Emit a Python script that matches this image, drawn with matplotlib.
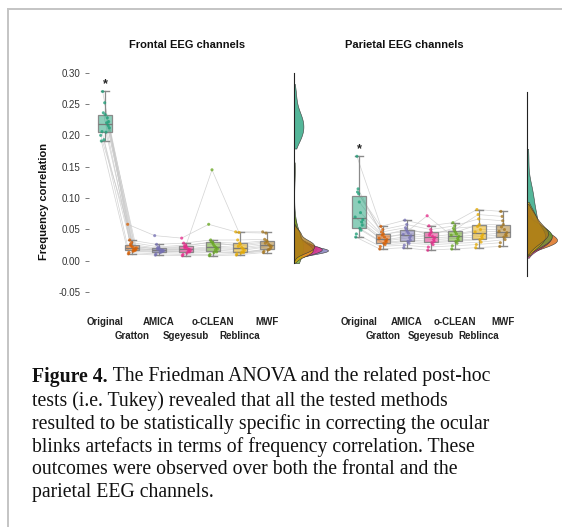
import numpy as np
import matplotlib
matplotlib.use("Agg")
import matplotlib.pyplot as plt
import matplotlib.transforms as mtransforms
from matplotlib.lines import Line2D

plt.rcParams["font.family"] = ["Liberation Sans", "DejaVu Sans"]
plt.rcParams["axes.unicode_minus"] = False

# ---------------- data ----------------
methods = ["Original", "Gratton", "AMICA", "Sgeyesub", "o-CLEAN", "Reblinca", "MWF"]
colors = ["#1b9e77", "#d95f02", "#7570b3", "#e7298a", "#66a61e", "#e6ab02", "#a6761d"]

# frontal channels, one value per subject (same subject order in every list)
orig_f = [0.200, 0.193, 0.228, 0.191, 0.252, 0.216, 0.206, 0.233, 0.222, 0.270, 0.205, 0.212, 0.236, 0.220]
gratton_f = [0.058, 0.024, 0.016, 0.011, 0.029, 0.019, 0.013, 0.022, 0.017, 0.033, 0.015, 0.020, 0.026, 0.018]
amica_f = [0.040, 0.018, 0.014, 0.009, 0.022, 0.017, 0.011, 0.019, 0.015, 0.026, 0.013, 0.016, 0.020, 0.017]
sgeye_f = [0.036, 0.020, 0.015, 0.008, 0.025, 0.018, 0.010, 0.022, 0.014, 0.028, 0.012, 0.017, 0.023, 0.019]
oclean_f = [0.058, 0.145, 0.017, 0.008, 0.029, 0.021, 0.010, 0.026, 0.014, 0.033, 0.013, 0.019, 0.030, 0.023]
reblinca_f = [0.046, 0.045, 0.014, 0.009, 0.028, 0.019, 0.011, 0.026, 0.013, 0.033, 0.012, 0.017, 0.023, 0.021]
mwf_f = [0.046, 0.044, 0.018, 0.013, 0.032, 0.024, 0.015, 0.030, 0.020, 0.034, 0.017, 0.023, 0.028, 0.026]

# parietal channels
orig_p = [0.091, 0.136, 0.070, 0.059, 0.128, 0.083, 0.064, 0.115, 0.078, 0.188, 0.073, 0.087, 0.131, 0.098]
gratton_p = [0.057, 0.062, 0.047, 0.040, 0.071, 0.053, 0.044, 0.064, 0.051, 0.076, 0.049, 0.055, 0.067, 0.059]
amica_p = [0.063, 0.071, 0.049, 0.042, 0.079, 0.058, 0.046, 0.068, 0.054, 0.086, 0.052, 0.061, 0.074, 0.065]
sgeye_p = [0.093, 0.065, 0.047, 0.038, 0.071, 0.055, 0.043, 0.067, 0.052, 0.077, 0.050, 0.058, 0.062, 0.060]
oclean_p = [0.062, 0.070, 0.049, 0.040, 0.077, 0.057, 0.045, 0.067, 0.054, 0.082, 0.052, 0.060, 0.073, 0.064]
reblinca_p = [0.067, 0.095, 0.051, 0.042, 0.088, 0.060, 0.047, 0.079, 0.057, 0.103, 0.055, 0.063, 0.076, 0.071]
mwf_p = [0.068, 0.092, 0.055, 0.044, 0.085, 0.063, 0.050, 0.079, 0.061, 0.100, 0.059, 0.066, 0.075, 0.071]

frontal = [orig_f, gratton_f, amica_f, sgeye_f, oclean_f, reblinca_f, mwf_f]
parietal = [orig_p, gratton_p, amica_p, sgeye_p, oclean_p, reblinca_p, mwf_p]

yticks = [-0.05, 0.00, 0.05, 0.10, 0.15, 0.20, 0.25, 0.30]

caption_lead = "Figure 4."
caption_lines = [
    " The Friedman ANOVA and the related post-hoc",
    "tests (i.e. Tukey) revealed that all the tested methods",
    "resulted to be statistically specific in correcting the ocular",
    "blinks artefacts in terms of frequency correlation. These",
    "outcomes were observed over both the frontal and the",
    "parietal EEG channels.",
]

# ---------------- figure ----------------
W, H = 562, 527
fig = plt.figure(figsize=(W / 100, H / 100), dpi=100)
fig.patch.set_facecolor("white")


def px_axes(x0, y0, x1, y1):
    """Axes from a pixel box measured from the top-left corner."""
    return fig.add_axes([x0 / W, 1 - y1 / H, (x1 - x0) / W, (y1 - y0) / H])


def kde(values, grid):
    v = np.asarray(values)
    bw = v.std(ddof=1) * len(v) ** (-1 / 5)
    z = (grid[:, None] - v[None, :]) / bw
    return np.exp(-0.5 * z ** 2).sum(axis=1) / (len(v) * bw * np.sqrt(2 * np.pi))


def raincloud(ax, dax, groups, max_px, dax_px):
    n = len(groups[0])
    jitter = (((np.arange(n) * 5) % n) / (n - 1) - 0.5) * 0.32
    xs = [i + jitter for i in range(len(groups))]
    # subject trajectories
    for s in range(n):
        ax.plot([xs[g][s] for g in range(len(groups))],
                [groups[g][s] for g in range(len(groups))],
                color="#c8c8c8", lw=0.5, alpha=0.8, zorder=1)
    bp = ax.boxplot(groups, positions=range(len(groups)), widths=0.55,
                    patch_artist=True, showfliers=False,
                    medianprops=dict(color="#7a7a7a", lw=0.9),
                    whiskerprops=dict(color="#8a8a8a", lw=0.9),
                    capprops=dict(color="#8a8a8a", lw=1.0),
                    boxprops=dict(edgecolor="#8a8a8a", lw=0.9),
                    capwidths=0.3, zorder=2)
    for patch, c in zip(bp["boxes"], colors):
        patch.set_facecolor(matplotlib.colors.to_rgba(c, 0.5))
    for g, c in enumerate(colors):
        ax.scatter(xs[g], groups[g], s=5, color=c, alpha=0.75,
                   edgecolors="none", zorder=3)
    top = max(groups[0])
    ax.text(0, top + 0.012, "*", ha="center", va="center",
            fontsize=9, fontweight="bold", color="#222222")
    ax.set_xticks([])
    ax.set_xlim(-0.6, 6.6)

    # half-violin densities
    dens = []
    for vals in groups:
        v = np.asarray(vals)
        gy = np.linspace(v.min() - 0.012, v.max() + 0.012, 400)
        dens.append((gy, kde(v, gy)))
    dmax = max(d.max() for _, d in dens)
    for (gy, d), c in zip(dens, colors):
        dax.fill_betweenx(gy, 0, d, facecolor=matplotlib.colors.to_rgba(c, 0.75),
                          edgecolor="#3a3a3a", lw=0.4)
    dax.set_xlim(0, dmax * dax_px / max_px)


# left panel (frontal)
ax_f = px_axes(88.8, 72.7, 283.2, 292.0)
dax_f = px_axes(294, 72.7, 334, 292.0)
# right panel (parietal)
ax_p = px_axes(344.6, 86.2, 517.4, 305.3)
dax_p = px_axes(527, 86.2, 562, 305.3)

for ax in (ax_f, ax_p, dax_f, dax_p):
    ax.set_ylim(-0.05, 0.30)
    for sp in ax.spines.values():
        sp.set_visible(False)
    ax.set_facecolor("none")

raincloud(ax_f, dax_f, frontal, 34, 40)
raincloud(ax_p, dax_p, parietal, 30, 35)

ax_f.set_yticks(yticks)
ax_f.set_yticklabels([f"{t:.2f}" for t in yticks], fontsize=7, color="#333333")
ax_f.tick_params(axis="y", length=3, width=0.6, color="#666666", pad=3)
ax_p.set_yticks([])
for dax, top in ((dax_f, 0.30), (dax_p, 0.29)):
    dax.set_xticks([])
    dax.set_yticks([])
    dax.plot([0, 0], [-0.003, top], color="#222222", lw=0.8, clip_on=False)

# category labels on two staggered rows
for ax in (ax_f, ax_p):
    tr = mtransforms.blended_transform_factory(ax.transData, fig.transFigure)
    for i, m in enumerate(methods):
        ypx = 322 if i % 2 == 0 else 336
        ax.text(i, 1 - ypx / H, m, transform=tr, ha="center", va="center",
                fontsize=7, fontweight="bold", color="#222222")

fig.text(187 / W, 1 - 45 / H, "Frontal EEG channels", ha="center", va="center",
         fontsize=8, fontweight="bold", color="#111111")
fig.text(404 / W, 1 - 45 / H, "Parietal EEG channels", ha="center", va="center",
         fontsize=8, fontweight="bold", color="#111111")
fig.text(44 / W, 1 - 201 / H, "Frequency correlation", ha="center", va="center",
         rotation=90, fontsize=8, fontweight="bold", color="#111111")

# frame lines
fig.add_artist(Line2D([8 / W, 8 / W], [0, 1 - 9 / H], color="#c4c4c4", lw=1.4))
fig.add_artist(Line2D([8 / W, 1], [1 - 9 / H, 1 - 9 / H], color="#c4c4c4", lw=1.4))

# caption
serif = ["Liberation Serif", "DejaVu Serif"]
cap_size = 14.2
cap_y = [377, 401, 424, 447, 470, 493]
renderer = fig.canvas.get_renderer()
lead = fig.text(32 / W, 1 - cap_y[0] / H, caption_lead, ha="left", va="center",
                fontsize=cap_size, fontweight="bold", family=serif, color="#111111")
bb = lead.get_window_extent(renderer=renderer)
fig.text(bb.x1 / W, 1 - cap_y[0] / H, caption_lines[0], ha="left", va="center",
         fontsize=cap_size, family=serif, color="#111111")
for line, y in zip(caption_lines[1:], cap_y[1:]):
    fig.text(32 / W, 1 - y / H, line, ha="left", va="center",
             fontsize=cap_size, family=serif, color="#111111")

fig.savefig("out.png", dpi=100, facecolor="white")
